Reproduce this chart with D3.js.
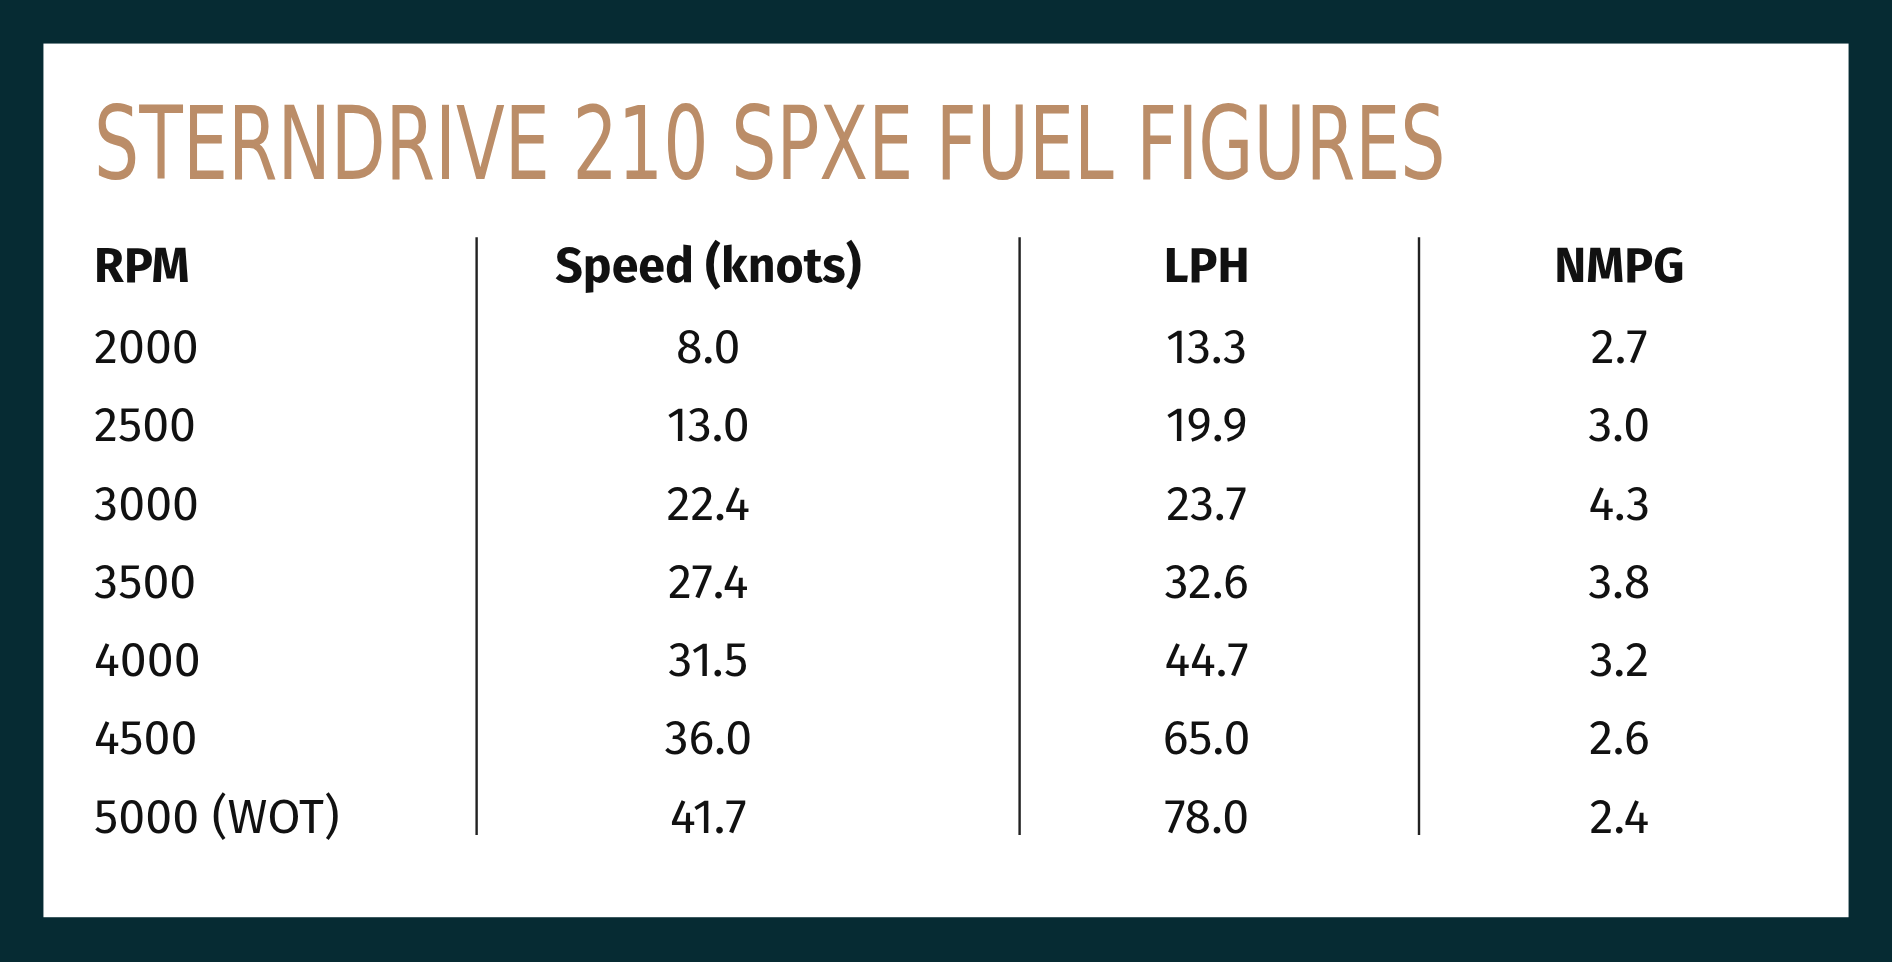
<!DOCTYPE html>
<html>
<head>
<meta charset="utf-8">
<script src="https://cdn.jsdelivr.net/npm/d3@7"></script>
<style>
  body { margin: 0; background: #062b33; }
  svg { display: block; }
</style>
</head>
<body>
<svg width="1892" height="962" viewBox="0 0 1568 795" preserveAspectRatio="none"></svg>
<script>
const title = "STERNDRIVE 210 SPXE FUEL FIGURES";
const columns = ["RPM", "Speed (knots)", "LPH", "NMPG"];
const rpm = ["2000", "2500", "3000", "3500", "4000", "4500", "5000 (WOT)"];
const speed = ["8.0", "13.0", "22.4", "27.4", "31.5", "36.0", "41.7"];
const lph = ["13.3", "19.9", "23.7", "32.6", "44.7", "65.0", "78.0"];
const nmpg = ["2.7", "3.0", "4.3", "3.8", "3.2", "2.6", "2.4"];

const svg = d3.select("svg");

// frame
svg.append("rect").attr("width", 1568).attr("height", 795).attr("fill", "#062b33");
svg.append("rect").attr("x", 36).attr("y", 36).attr("width", 1496).attr("height", 722).attr("fill", "#ffffff");

// title
svg.append("text")
    .attr("x", 78).attr("y", 148)
    .attr("textLength", 1120).attr("lengthAdjust", "spacingAndGlyphs")
    .style("font-family", "'DejaVu Sans Condensed', 'Liberation Sans Narrow', sans-serif")
    .style("font-size", "84px")
    .style("fill", "#bb8d68")
    .text(title);

// column positions
const colX = d3.scaleOrdinal().domain(columns).range([78, 587, 1000, 1342]);
const anchor = c => c === "RPM" ? "start" : "middle";

// row positions
const rowY = d3.scalePoint().domain(rpm).range([300, 688]);

const font = "'Fira Sans', 'Open Sans', 'Noto Sans', sans-serif";

svg.selectAll("text.head")
  .data(columns)
  .join("text")
    .attr("class", "head")
    .attr("x", d => colX(d))
    .attr("y", 233)
    .attr("text-anchor", anchor)
    .style("font-family", font)
    .style("font-weight", "bold")
    .style("font-size", "40px")
    .style("fill", "#111")
    .text(d => d);

// dividers
svg.selectAll("line.div")
  .data([395, 845, 1176])
  .join("line")
    .attr("x1", d => d).attr("x2", d => d)
    .attr("y1", 196).attr("y2", 690)
    .attr("stroke", "#222").attr("stroke-width", 2);

const series = [rpm, speed, lph, nmpg];
series.forEach((vals, i) => {
  svg.append("g").selectAll("text")
    .data(vals)
    .join("text")
      .attr("x", colX(columns[i]))
      .attr("y", (d, j) => rowY(rpm[j]))
      .attr("text-anchor", anchor(columns[i]))
      .style("font-family", font)
      .style("font-size", "40px")
      .style("fill", "#111")
      .text(d => d);
});
</script>
</body>
</html>
